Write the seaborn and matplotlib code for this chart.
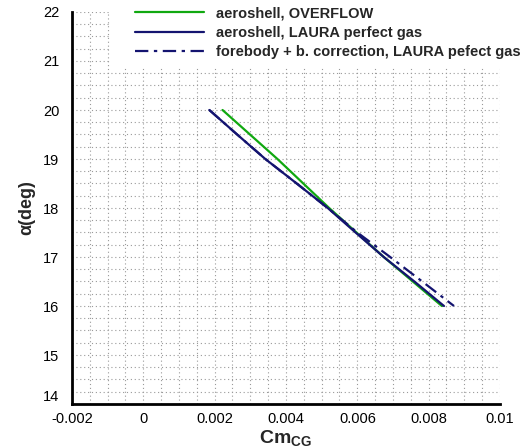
import matplotlib
matplotlib.use("Agg")
import matplotlib.pyplot as plt
import seaborn as sns
import pandas as pd
from matplotlib.ticker import MultipleLocator
from matplotlib.patches import Rectangle

# ---- data ----
alpha_overflow = [20.0, 19.0, 18.0, 17.0, 16.0]
cm_overflow = [0.00222, 0.00376, 0.00521, 0.00674, 0.00837]

alpha_laura = [20.0, 19.5, 19.0, 18.5, 18.0, 17.5, 17.0, 16.5, 16.0]
cm_laura = [0.00185, 0.00263, 0.00342, 0.00430, 0.00517, 0.00595, 0.00674, 0.00760, 0.00843]

alpha_fb = [20.0, 19.5, 19.0, 18.5, 18.0, 17.5, 17.0, 16.5, 16.0]
cm_fb = [0.00185, 0.00263, 0.00342, 0.00430, 0.00517, 0.00600, 0.00692, 0.00782, 0.00871]

labels = ["aeroshell, OVERFLOW",
          "aeroshell, LAURA perfect gas",
          "forebody + b. correction, LAURA pefect gas"]
colors = ["#10a810", "#141470", "#141470"]

xticks = [-0.002, 0, 0.002, 0.004, 0.006, 0.008, 0.01]
xticklabels = ["-0.002", "0", "0.002", "0.004", "0.006", "0.008", "0.01"]
yticks = [14, 15, 16, 17, 18, 19, 20, 21, 22]

frames = []
for lab, a, c in zip(labels, [alpha_overflow, alpha_laura, alpha_fb],
                     [cm_overflow, cm_laura, cm_fb]):
    frames.append(pd.DataFrame({"Cm": c, "alpha": a, "case": lab}))
df = pd.concat(frames, ignore_index=True)

sns.set_style("white")
plt.rcParams["font.family"] = ["Liberation Sans", "DejaVu Sans"]
plt.rcParams["mathtext.fontset"] = "custom"
plt.rcParams["mathtext.rm"] = "Liberation Sans"
plt.rcParams["mathtext.bf"] = "Liberation Sans:bold"

fig = plt.figure(figsize=(5.27, 4.48), dpi=100)
ax = fig.add_axes([72 / 527, 44 / 448, 428 / 527, 392 / 448])

sns.lineplot(data=df, x="Cm", y="alpha", hue="case", style="case",
             palette=dict(zip(labels, colors)),
             dashes={labels[0]: "", labels[1]: "",
                     labels[2]: (6, 2.5, 1.5, 2.5)},
             sort=False, estimator=None, linewidth=1.6, ax=ax, legend=True)

ax.set_xlim(-0.002, 0.01)
ax.set_ylim(14, 22)
ax.set_xticks(xticks)
ax.set_xticklabels(xticklabels)
ax.set_yticks(yticks)
ax.xaxis.set_minor_locator(MultipleLocator(0.0005))
ax.yaxis.set_minor_locator(MultipleLocator(0.25))

ax.grid(True, which="both", color="#9a9a9a", linestyle=(0, (1, 2.5)), linewidth=0.8)
ax.set_axisbelow(True)

# white area behind the legend (covers grid)
ax.add_patch(Rectangle(((110 - 72) / 428, (392 - 56) / 392), 1.0, 56 / 392,
                       transform=ax.transAxes, facecolor="white",
                       edgecolor="none", zorder=1.5, clip_on=True))

for s in ["top", "right"]:
    ax.spines[s].set_visible(False)
for s in ["left", "bottom"]:
    ax.spines[s].set_linewidth(2)
    ax.spines[s].set_color("black")

ax.tick_params(which="major", direction="in", length=8, width=2, labelsize=10.5,
               colors="black")
ax.tick_params(axis="x", which="major", pad=6)
ax.tick_params(axis="y", which="major", pad=9)
ax.tick_params(which="minor", direction="in", length=4, width=1, colors="black")

ax.get_yticklabels()[0].set_va("bottom")

ax.set_xlabel(r"$\mathbf{Cm_{CG}}$", fontsize=14, labelpad=1)
ax.set_ylabel("α(deg)", fontsize=13, fontweight="bold", labelpad=6)

leg = ax.legend(loc="upper left", bbox_to_anchor=(0.138, 1.025),
                frameon=True, fancybox=False, framealpha=1,
                edgecolor="white", facecolor="white",
                prop={"weight": "bold", "size": 10.5},
                handlelength=4.7, handletextpad=0.8, labelspacing=0.35,
                borderpad=0.3, borderaxespad=0)
leg.get_frame().set_linewidth(0)

fig.savefig("out.png", dpi=100)
